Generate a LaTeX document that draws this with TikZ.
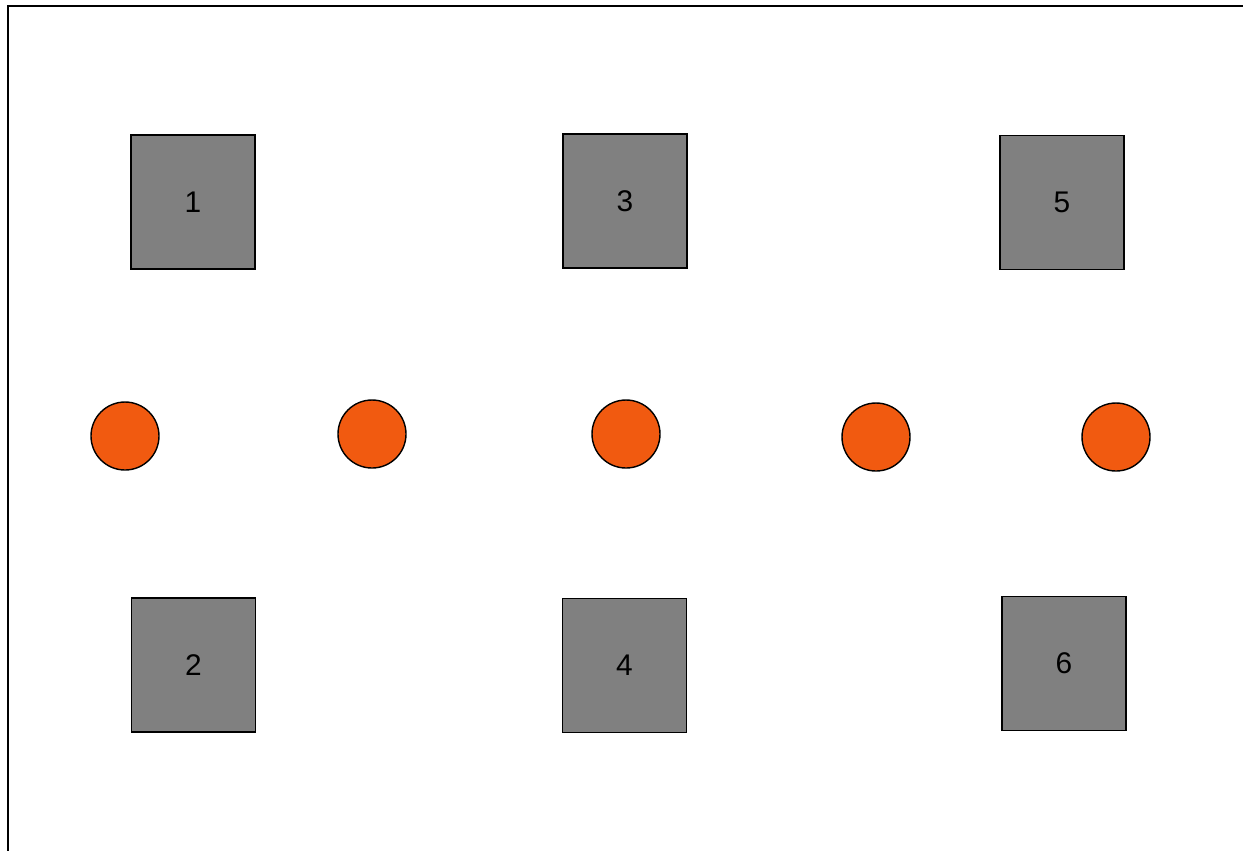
\documentclass[tikz,border=0pt]{standalone}
\usepackage{fontspec}
\setmainfont{Liberation Sans}
\definecolor{boxgray}{HTML}{808080}
\definecolor{dotorange}{HTML}{F15A10}
\begin{document}
\begin{tikzpicture}[x=0.02cm,y=-0.02cm,
  sq/.style={draw=black,line width=1pt,fill=boxgray,minimum width=124*0.02cm,minimum height=134*0.02cm,inner sep=0pt,font=\fontsize{17}{20}\selectfont},
  dot/.style={circle,draw=black,line width=0.8pt,fill=dotorange,minimum size=68*0.02cm,inner sep=0pt}]
\useasboundingbox (0,0) rectangle (1243,850);
\coordinate (fbl) at (8,860);
\coordinate (ftl) at (8,6);
\coordinate (ftr) at (1260,6);
\draw[line width=1.2pt] (fbl) -- (ftl) -- (ftr);
\node[sq] (b1) at (193,202) {1};
\node[sq] (b3) at (625,201) {3};
\node[sq] (b5) at (1062,202.5) {5};
\node[sq] (b2) at (193.5,665) {2};
\node[sq] (b4) at (624.5,665.5) {4};
\node[sq] (b6) at (1064,663.5) {6};
\node[dot] (c1) at (125,436) {};
\node[dot] (c2) at (372,434) {};
\node[dot] (c3) at (626,434) {};
\node[dot] (c4) at (876,437) {};
\node[dot] (c5) at (1116,437) {};
\end{tikzpicture}
\end{document}
